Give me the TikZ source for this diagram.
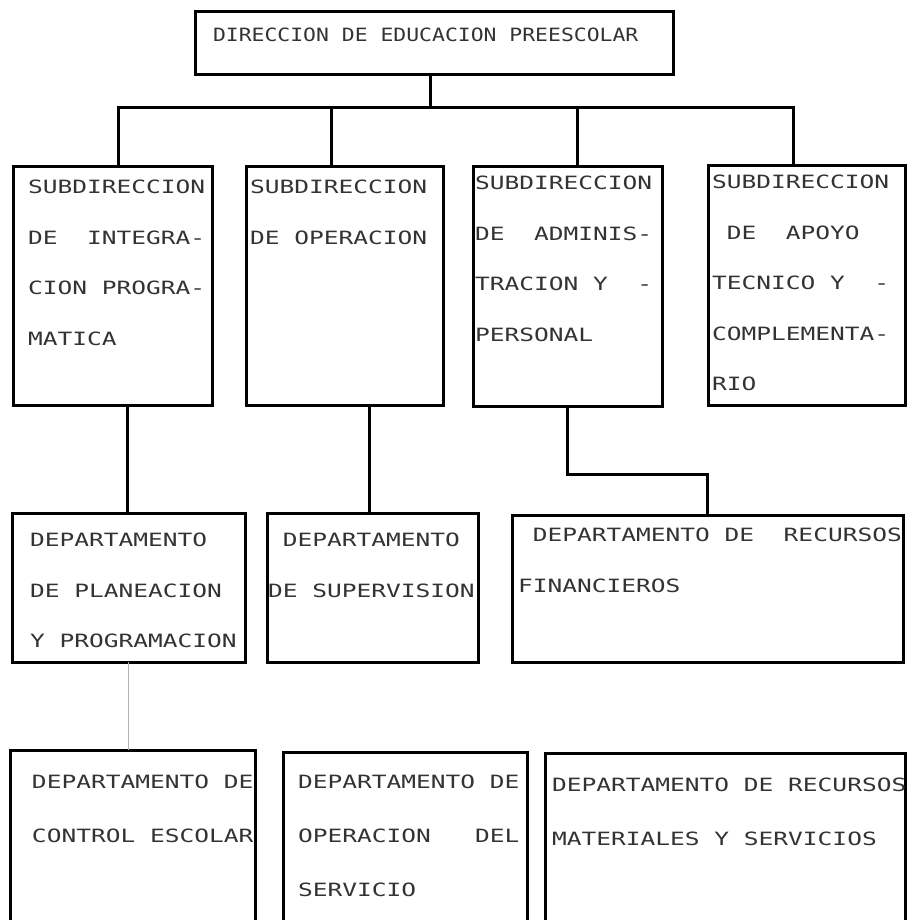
\documentclass[tikz,border=0pt]{standalone}
\usepackage{fontspec}
\usepackage{tikz}
\newfontfamily\typefont[FakeStretch=1.34]{DejaVu Sans Mono}
\newfontfamily\titlefont[FakeStretch=1.17]{DejaVu Sans Mono}
\newcommand\gap{\hphantom{X}}
\hyphenpenalty=10000
\exhyphenpenalty=10000

\begin{document}
\begin{tikzpicture}[
        x=0.5pt, y=-0.5pt,
        every node/.style={inner ysep=0pt, outer sep=0pt},
        box/.style={draw, line width=1.5pt, anchor=north west, align=left, text=black!80,
            font=\typefont\fontsize{9.15}{25.25}\selectfont},
        lowbox/.style={box, font=\typefont\fontsize{9.15}{27}\selectfont},
        link/.style={line width=1.5pt},
        faint/.style={gray!60, line width=0.5pt}
    ]
    \useasboundingbox (0,0) rectangle (907,920);
    \clip (0,0) rectangle (907,920);

    % Direccion
    \node[box, font=\titlefont\fontsize{9.15}{25}\selectfont, inner xsep=9pt, text width=221pt,
        text height=15pt, text depth=16.5pt] (dir) at (195,12) {DIRECCION\gap DE\gap EDUCACION\gap PREESCOLAR};

    % Subdirecciones
    \node[box, inner xsep=7.5pt, text width=84.5pt, text height=13.75pt, text depth=105.75pt]
        (sub1) at (13,166) {SUBDIRECCION\\DE\gap\gap INTEGRA-\\CION\gap PROGRA-\\MATICA};
    \node[box, inner xsep=2pt, text width=94.5pt, text height=13.75pt, text depth=105.75pt]
        (sub2) at (246,166) {SUBDIRECCION\\DE\gap OPERACION};
    \node[box, inner xsep=1pt, text width=92.5pt, text height=11.75pt, text depth=108.25pt]
        (sub3) at (473,166) {SUBDIRECCION\\DE\gap\gap ADMINIS-\\TRACION\gap Y\gap\gap -\\PERSONAL};
    \node[box, inner xsep=2pt, text width=94.5pt, text height=11.75pt, text depth=108.25pt]
        (sub4) at (708,165) {SUBDIRECCION\\\gap DE\gap\gap APOYO\\TECNICO\gap Y\gap\gap -\\COMPLEMENTA-\\RIO};

    % Departamentos
    \node[box, inner xsep=9pt, text width=98.5pt, text height=16.75pt, text depth=57.75pt]
        (dept1) at (12,513) {DEPARTAMENTO\\DE\gap PLANEACION\\Y\gap PROGRAMACION};
    \node[box, inner xsep=0.5pt, text width=104.5pt, text height=16.75pt, text depth=57.75pt]
        (dept2) at (267,513) {\gap DEPARTAMENTO\\DE\gap SUPERVISION};
    \node[box, inner xsep=3pt, text width=189.5pt, text height=13.25pt, text depth=60.25pt]
        (dept3) at (512,515) {\gap DEPARTAMENTO\gap DE\gap\gap RECURSOS\\FINANCIEROS};

    \node[lowbox, inner xsep=11pt, text width=100.5pt, text height=19.25pt, text depth=85.75pt]
        (dept4) at (10,750) {DEPARTAMENTO\gap DE\\CONTROL\gap ESCOLAR};
    \node[lowbox, inner xsep=7.5pt, text width=107pt, text height=18.25pt, text depth=85.75pt]
        (dept5) at (283,752) {DEPARTAMENTO\gap DE\\OPERACION\gap\gap\gap DEL\\SERVICIO};
    \node[lowbox, inner xsep=3.5pt, text width=173pt, text height=19.25pt, text depth=85.75pt]
        (dept6) at (545,753) {DEPARTAMENTO\gap DE\gap RECURSOS\\MATERIALES\gap Y\gap SERVICIOS};

    % Lineas
    \coordinate (bus) at (430,108);
    \draw[link] (dir.south -| bus) -- (bus);
    \draw[link] ([xshift=2.75pt]sub1.north) |- (bus) -| ([xshift=-6.75pt]sub4.north);
    \draw[link] ([xshift=-6.75pt]sub2.north) -- ([xshift=-6.75pt]sub2.north |- bus);
    \draw[link] ([xshift=4.75pt]sub3.north) -- ([xshift=4.75pt]sub3.north |- bus);

    \draw[link] ([xshift=7.25pt]sub1.south) -- ([xshift=7.25pt]sub1.south |- dept1.north);
    \draw[link] ([xshift=12.25pt]sub2.south) -- ([xshift=12.25pt]sub2.south |- dept2.north);
    \draw[link] (sub3.south) -- ++(0,68) -| (dept3.north);
    \draw[faint] (dept1.south) -- (dept1.south |- dept4.north);

\end{tikzpicture}
\end{document}
